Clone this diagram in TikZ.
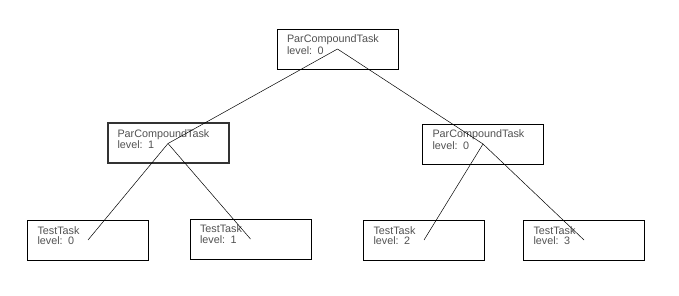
\documentclass[tikz,border=0pt]{standalone}
\usepackage{fontspec}
\setmainfont{Liberation Sans}
\tikzset{
  task/.style={draw=black, line width=0.8pt, rectangle, minimum width=121pt,
    text width=101pt, inner xsep=10pt, inner ysep=0pt, align=left,
    text height=14pt, text depth=26pt, text=black!68,
    font=\fontsize{10.8}{10}\selectfont},
  current/.style={line width=2pt, draw=black!80},
}
\begin{document}
\begin{tikzpicture}[x=1pt, y=-1pt]
      \useasboundingbox[fill=white] (0,0) rectangle (679,296);
      \draw
        (337.5,49) node[task] (0){ParCompoundTask\\level: 0}
        (168,143.5) node[task,current] (1){ParCompoundTask\\level: 1}
        (483,144) node[task] (2){ParCompoundTask\\level: 0}
        (88,240) node[task] (3){TestTask\\level: 0}
        (250.5,239) node[task] (4){TestTask\\level: 1}
        (424,240) node[task] (5){TestTask\\level: 2}
        (584,240) node[task] (6){TestTask\\level: 3};
      \begin{scope}[-, line width=0.5pt]
        \draw (0.center) to (1.center);
        \draw (0.center) to (2.center);
        \draw (1.center) to (3.center);
        \draw (1.center) to (4.center);
        \draw (2.center) to (5.center);
        \draw (2.center) to (6.center);
      \end{scope}
    \end{tikzpicture}
\end{document}
